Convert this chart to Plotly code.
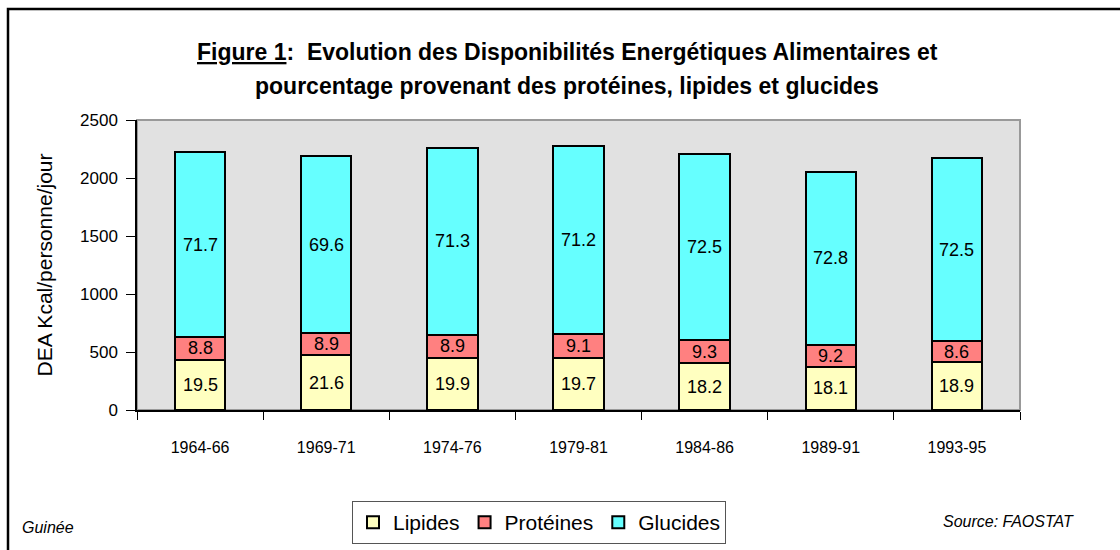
import plotly.graph_objects as go

periods = ["1964-66", "1969-71", "1974-76", "1979-81", "1984-86", "1989-91", "1993-95"]
totals = [2221, 2184, 2256, 2273, 2204, 2052, 2170]
pct_lipides = [19.5, 21.6, 19.9, 19.7, 18.2, 18.1, 18.9]
pct_proteines = [8.8, 8.9, 8.9, 9.1, 9.3, 9.2, 8.6]
pct_glucides = [71.7, 69.6, 71.3, 71.2, 72.5, 72.8, 72.5]
y_ticks = [0, 500, 1000, 1500, 2000, 2500]

series = [
    ("Lipides", pct_lipides, "#FFFFC0"),
    ("Protéines", pct_proteines, "#FF8080"),
    ("Glucides", pct_glucides, "#66FFFF"),
]

W, H = 1120, 550
L, R, T, B = 137, 100, 120, 140
pw = W - L - R
ph = H - T - B

def px2paper_x(px):
    return (px - L) / pw

def px2paper_y(py):
    return (H - B - py) / ph

NARROW = "Liberation Sans Narrow, Arial Narrow, Liberation Sans, Arial, sans-serif"
SANS = "Liberation Sans, Arial, sans-serif"

fig = go.Figure()
base = [0.0] * len(periods)
label_annots = []
for name, pcts, color in series:
    vals = [t * p / 100 for t, p in zip(totals, pcts)]
    fig.add_trace(go.Bar(
        x=periods, y=vals, name=name,
        marker=dict(color=color, line=dict(color="black", width=2)),
        textposition="none",
        hoverinfo="skip",
    ))
    for i, (v, p) in enumerate(zip(vals, pcts)):
        label_annots.append(dict(
            x=periods[i], y=base[i] + v / 2, xref="x", yref="y",
            text=f"{p:.1f}", showarrow=False, xanchor="center", yanchor="middle",
            font=dict(family=NARROW, size=18, color="black"),
        ))
        base[i] += v

fig.update_layout(
    width=W, height=H,
    barmode="stack", bargap=0.6,
    margin=dict(l=L, r=R, t=T, b=B, autoexpand=False),
    paper_bgcolor="white", plot_bgcolor="#E1E1E1",
    showlegend=True,
    legend=dict(
        orientation="h", x=px2paper_x(539), xanchor="center",
        y=px2paper_y(501), yanchor="top", traceorder="normal",
        bordercolor="#555555", borderwidth=1, bgcolor="white",
        font=dict(family=SANS, size=21, color="black"),
        itemsizing="constant", tracegroupgap=0, itemwidth=30,
    ),
    font=dict(family=SANS, color="black"),
)

fig.update_xaxes(
    type="category", tickson="boundaries",
    showline=True, linecolor="black", linewidth=1.5,
    ticks="outside", ticklen=8, tickcolor="black", tickwidth=1,
    ticklabelstandoff=22,
    tickfont=dict(family=NARROW, size=16, color="black"),
    showgrid=False, mirror=False,
)
fig.update_yaxes(
    range=[0, 2500], tickvals=y_ticks,
    showline=True, linecolor="black", linewidth=1.5,
    ticks="outside", ticklen=9, tickcolor="black", tickwidth=1,
    ticklabelstandoff=5,
    tickfont=dict(family=NARROW, size=17, color="black"),
    showgrid=False, zeroline=False,
    title=dict(text="DEA Kcal/personne/jour", standoff=22,
               font=dict(family=SANS, size=21, color="black")),
)

# plot area border (gray top/right)
fig.add_shape(type="rect", xref="paper", yref="paper", x0=0, x1=1, y0=0, y1=1,
              line=dict(color="#999999", width=2), layer="below")
# outer frame
fig.add_shape(type="rect", xref="paper", yref="paper",
              x0=px2paper_x(8), x1=px2paper_x(1140),
              y0=px2paper_y(570), y1=px2paper_y(9),
              line=dict(color="black", width=2.5), fillcolor="rgba(0,0,0,0)")

for a in label_annots:
    fig.add_annotation(**a)

title_font = dict(family=SANS, size=23, color="black")
fig.add_annotation(xref="paper", yref="paper", x=px2paper_x(567), y=px2paper_y(52),
                   xanchor="center", yanchor="middle", showarrow=False,
                   text="<b><u>Figure 1</u>:  Evolution des Disponibilités Energétiques Alimentaires et</b>",
                   font=title_font)
fig.add_annotation(xref="paper", yref="paper", x=px2paper_x(567), y=px2paper_y(86),
                   xanchor="center", yanchor="middle", showarrow=False,
                   text="<b>pourcentage provenant des protéines, lipides et glucides</b>",
                   font=title_font)
fig.add_annotation(xref="paper", yref="paper", x=px2paper_x(20), y=px2paper_y(527),
                   xanchor="left", yanchor="middle", showarrow=False,
                   text="<i>Guinée</i>",
                   font=dict(family=NARROW, size=16, color="black"))
fig.add_annotation(xref="paper", yref="paper", x=px2paper_x(1076), y=px2paper_y(521),
                   xanchor="right", yanchor="middle", showarrow=False,
                   text="<i>Source: FAOSTAT</i>",
                   font=dict(family=NARROW, size=16, color="black"))

fig.write_html("out.html", config={"displayModeBar": False},
               post_script="document.body.style.margin='0px';document.body.style.overflow='hidden';")
